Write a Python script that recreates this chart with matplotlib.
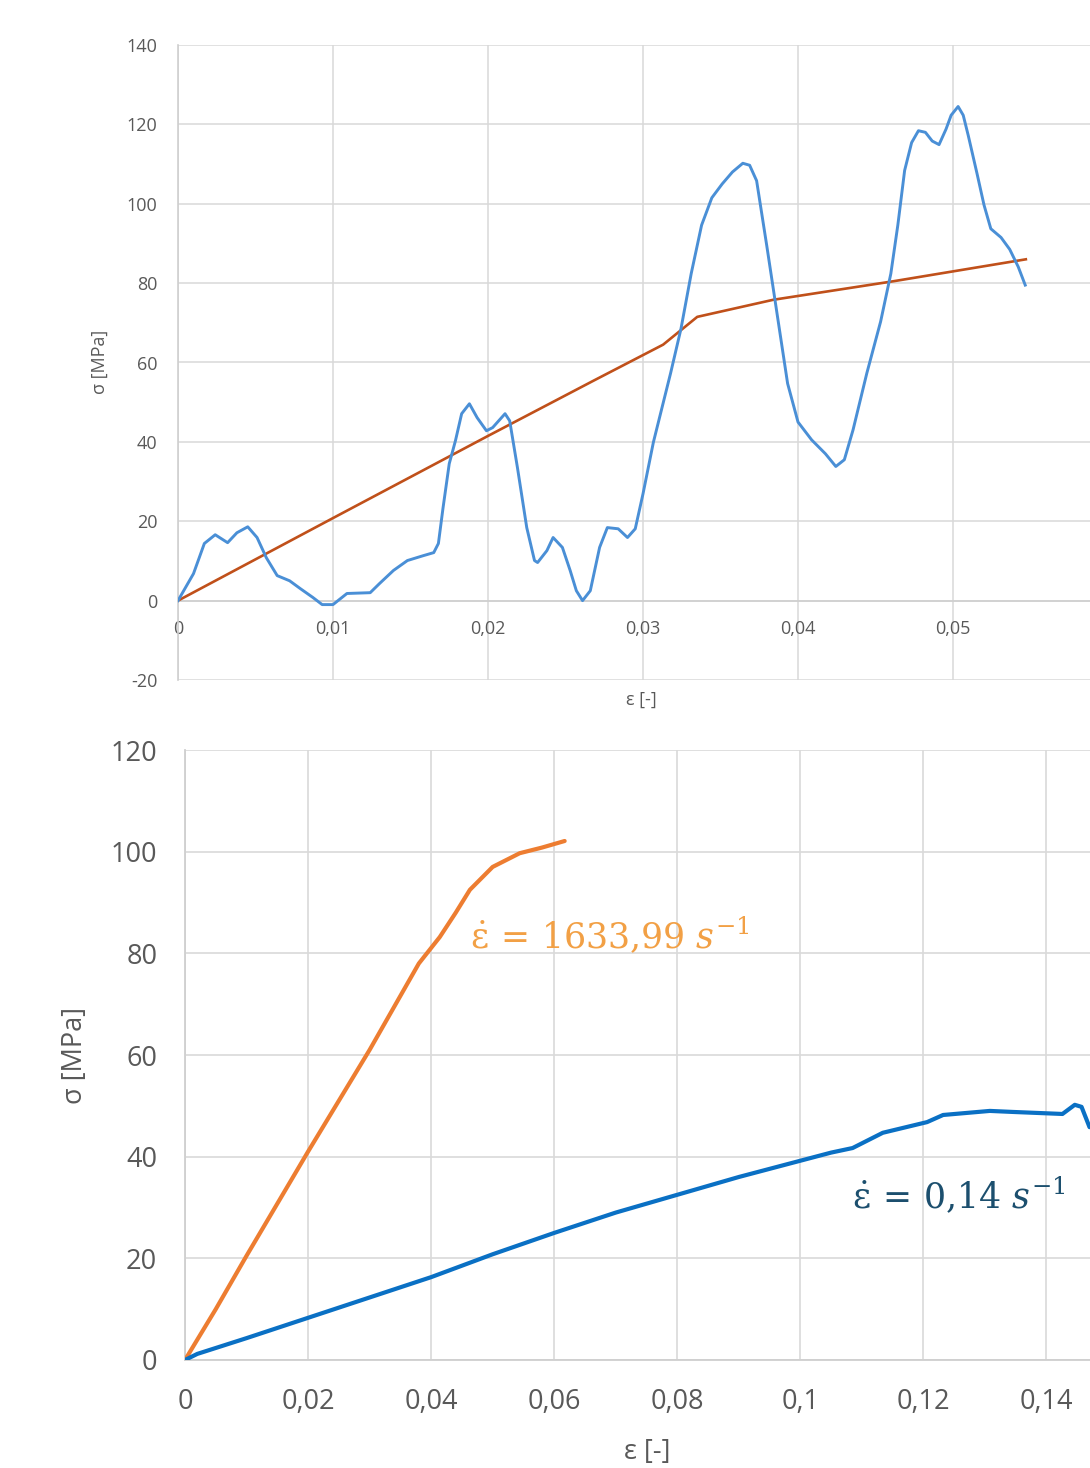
import matplotlib
matplotlib.use("Agg")
import matplotlib.pyplot as plt
import numpy as np

plt.rcParams['font.family'] = ['Open Sans', 'DejaVu Sans']
plt.rcParams['mathtext.fontset'] = 'dejavuserif'
plt.rcParams['axes.unicode_minus'] = False

# ---------------- top chart data ----------------
top_meas_x = [0.0, 0.001, 0.0017, 0.0024, 0.0032, 0.0038, 0.0045, 0.0051, 0.0057, 0.0064,
              0.0072, 0.0079, 0.0087, 0.0093, 0.0100, 0.0109, 0.0124, 0.0130, 0.0139, 0.0148,
              0.0158, 0.0165, 0.0168, 0.0171, 0.0175, 0.0179, 0.0183, 0.0188, 0.0193, 0.0199,
              0.0203, 0.0211, 0.0214, 0.0219, 0.0225, 0.0230, 0.0232, 0.0238, 0.0242, 0.0248,
              0.0253, 0.0257, 0.0261, 0.0266, 0.0272, 0.0277, 0.0284, 0.0290, 0.0295, 0.0300,
              0.03067, 0.03178, 0.03245, 0.03311, 0.03378, 0.03444, 0.03511, 0.03577, 0.03644, 0.03688,
              0.03733, 0.03799, 0.03866, 0.03933, 0.0400, 0.04088, 0.04177, 0.04244, 0.04299, 0.04355,
              0.04444, 0.04533, 0.04599, 0.04644, 0.04688, 0.04733, 0.04777, 0.04822, 0.04866, 0.0491,
              0.04955, 0.04988, 0.05033, 0.05066, 0.05099, 0.05155, 0.0520, 0.05244, 0.0531, 0.05366,
              0.05421, 0.05466]
top_meas_y = [0.0, 6.8, 14.4, 16.6, 14.6, 17.1, 18.6, 15.9, 10.8, 6.3,
              5.0, 3.0, 0.8, -1.0, -1.0, 1.8, 2.0, 4.3, 7.6, 10.1,
              11.3, 12.1, 14.4, 23.4, 34.5, 40.3, 47.1, 49.6, 46.1, 42.8,
              43.6, 47.1, 45.3, 33.5, 18.4, 10.1, 9.6, 12.6, 15.9, 13.4,
              7.6, 2.5, 0.0, 2.5, 13.4, 18.4, 18.1, 15.9, 18.1, 26.9,
              39.9, 57.3, 68.5, 82.4, 94.6, 101.5, 105.0, 108.0, 110.2, 109.7,
              105.8, 89.3, 72.0, 54.7, 45.0, 40.5, 37.0, 33.8, 35.5, 43.0,
              57.3, 70.3, 82.4, 94.6, 108.4, 115.4, 118.4, 118.0, 115.8, 114.9,
              118.8, 122.3, 124.5, 122.3, 117.1, 107.6, 99.7, 93.7, 91.5, 88.5,
              84.1, 79.5]

top_model_x = [0.0, 0.01, 0.02, 0.0268, 0.0313, 0.0335, 0.0384, 0.0462, 0.0547]
top_model_y = [0.0, 20.8, 41.5, 55.4, 64.5, 71.5, 75.8, 80.5, 86.0]

top_xticks = [0.0, 0.01, 0.02, 0.03, 0.04, 0.05, 0.06]
top_xticklabels = ['0', '0,01', '0,02', '0,03', '0,04', '0,05', '0,06']
top_yticks = [-20, 0, 20, 40, 60, 80, 100, 120, 140]

# ---------------- bottom chart data ----------------
fast_x = [0.0, 0.005, 0.01, 0.02, 0.03, 0.038, 0.0414, 0.044, 0.0463, 0.05, 0.0544, 0.058, 0.0617]
fast_y = [0.0, 10.0, 20.5, 41.0, 61.0, 78.0, 83.2, 88.0, 92.5, 97.0, 99.7, 100.8, 102.1]

slow_x = [0.0, 0.002, 0.01, 0.02, 0.03, 0.04, 0.05, 0.06, 0.07, 0.08, 0.09, 0.1, 0.105,
          0.1085, 0.1134, 0.1206, 0.1232, 0.1308, 0.1345, 0.1426, 0.1446, 0.1457, 0.147]
slow_y = [0.0, 1.2, 4.3, 8.3, 12.3, 16.3, 20.8, 25.0, 29.0, 32.5, 36.0, 39.2, 40.8,
          41.7, 44.7, 46.8, 48.2, 49.0, 48.8, 48.4, 50.2, 49.8, 45.8]

bot_xticks = [0.0, 0.02, 0.04, 0.06, 0.08, 0.1, 0.12, 0.14]
bot_xticklabels = ['0', '0,02', '0,04', '0,06', '0,08', '0,1', '0,12', '0,14']
bot_yticks = [0, 20, 40, 60, 80, 100, 120]

fast_label = r'$\dot{\mathrm{\varepsilon}}\,=\,1633{,}99\ s^{-1}$'
slow_label = r'$\dot{\mathrm{\varepsilon}}\,=\,0{,}14\ s^{-1}$'

W, H = 1090, 1468
fig = plt.figure(figsize=(W / 100, H / 100), dpi=100)
fig.patch.set_facecolor('white')

grid_c = '#d9d9d9'
spine_c = '#cfcfcf'
text_c = '#595959'

# ---------------- top axes ----------------
ax1 = fig.add_axes([178 / W, 1 - 680 / H, (1108 - 178) / W, (680 - 45) / H])
ax1.plot(top_model_x, top_model_y, color='#c0501a', lw=1.9, zorder=3)
ax1.plot(top_meas_x, top_meas_y, color='#4a8fd6', lw=2.1, zorder=4)
ax1.set_xlim(0, 0.06)
ax1.set_ylim(-20, 140)
ax1.set_xticks(top_xticks)
ax1.set_xticklabels(top_xticklabels)
ax1.set_yticks(top_yticks)
ax1.grid(True, color=grid_c, lw=1.1)
ax1.set_axisbelow(True)
for s in ['top', 'right']:
    ax1.spines[s].set_visible(False)
ax1.spines['bottom'].set_position(('data', 0))
ax1.spines['bottom'].set_color(spine_c)
ax1.spines['left'].set_color(spine_c)
ax1.spines['bottom'].set_linewidth(1.2)
ax1.spines['left'].set_linewidth(1.2)
ax1.tick_params(axis='x', length=0, pad=14, labelsize=13, labelcolor=text_c)
ax1.tick_params(axis='y', length=0, pad=15, labelsize=13, labelcolor=text_c)
fig.text(641 / W, 1 - 700 / H, 'ε [-]', ha='center', va='center', fontsize=13, color=text_c)
fig.text(100 / W, 1 - 362 / H, 'σ [MPa]', ha='center', va='center', rotation=90,
         fontsize=13, color=text_c)

# ---------------- bottom axes ----------------
ax2 = fig.add_axes([185 / W, 1 - 1360 / H, (1108 - 185) / W, (1360 - 750) / H])
ax2.plot(fast_x, fast_y, color='#ed7d31', lw=3.0, zorder=3, solid_capstyle='round')
ax2.plot(slow_x, slow_y, color='#0a70c4', lw=3.0, zorder=4, solid_capstyle='round')
ax2.set_xlim(0, 0.15)
ax2.set_ylim(0, 120)
ax2.set_xticks(bot_xticks)
ax2.set_xticklabels(bot_xticklabels)
ax2.set_yticks(bot_yticks)
ax2.grid(True, color=grid_c, lw=1.2)
ax2.set_axisbelow(True)
for s in ['top', 'right']:
    ax2.spines[s].set_visible(False)
ax2.spines['bottom'].set_color(spine_c)
ax2.spines['left'].set_color(spine_c)
ax2.spines['bottom'].set_linewidth(1.3)
ax2.spines['left'].set_linewidth(1.3)
ax2.tick_params(axis='x', length=0, pad=20, labelsize=19.5, labelcolor=text_c)
ax2.tick_params(axis='y', length=0, pad=20, labelsize=19.5, labelcolor=text_c)
fig.text(647 / W, 1 - 1452 / H, 'ε [-]', ha='center', va='center', fontsize=19.5, color=text_c)
fig.text(75 / W, 1 - 1055 / H, 'σ [MPa]', ha='center', va='center', rotation=90,
         fontsize=19.5, color=text_c)

ax2.text(0.0463, 81.1, fast_label, color='#f2a045', fontsize=25, ha='left', va='baseline')
ax2.text(0.1084, 29.9, slow_label, color='#1c4f6e', fontsize=25, ha='left', va='baseline')

fig.savefig('out.png', dpi=100, facecolor='white')
